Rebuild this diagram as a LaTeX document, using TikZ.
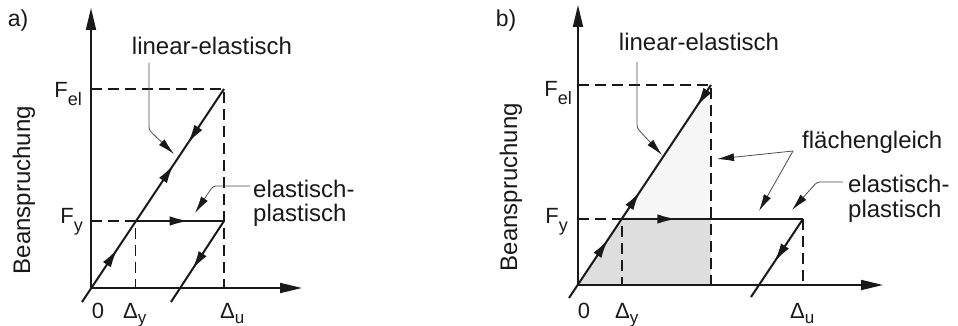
\documentclass[tikz,border=0pt]{standalone}
\usepackage{fontspec}
\setmainfont{Liberation Sans}
\usetikzlibrary{arrows.meta,decorations.markings}
\tikzset{
  axis/.style={line width=1.8pt,draw=black!90,-{Triangle[length=22pt,width=10pt]}},
  curve/.style={line width=2pt,draw=black!90},
  dsh/.style={line width=1.6pt,draw=black!90,dash pattern=on 11pt off 6pt},
  leader/.style={line width=0.8pt,draw=black!70,rounded corners=3pt,-{Latex[length=17pt,width=8pt,black!90]}},
  lbl/.style={font=\fontsize{24}{25}\selectfont,inner sep=0pt,text=black!90},
  tick/.style={font=\fontsize{22}{22}\selectfont,inner sep=0pt,text=black!90},
  arr/.style={postaction={decorate,decoration={markings,mark=at position #1 with {\arrow{Latex[length=19pt,width=9.5pt]}}}}},
  rarr/.style={postaction={decorate,decoration={markings,mark=at position #1 with {\arrowreversed{Latex[length=19pt,width=9.5pt]}}}}},
}
\newcommand{\subsc}[1]{\raisebox{-8pt}{\fontsize{18}{18}\selectfont #1}}
\newcommand{\subtk}[1]{\raisebox{-5pt}{\fontsize{17}{17}\selectfont #1}}
\begin{document}
\begin{tikzpicture}[x=1pt,y=-1pt]
\useasboundingbox (0,0) rectangle (958,326);
% ---------------- panel a ----------------
\coordinate (Oa) at (91,288);
\coordinate (Ta) at (91,8);
\coordinate (Ra) at (302,288);
\coordinate (Sa) at (82,302);
\coordinate (Ea) at (224,89);
\coordinate (Pa) at (135.5,221);
\coordinate (Ua) at (224,221);
\coordinate (Ba) at (171,302);
\draw[dsh] (Oa |- Ea) -- (Ea) -- (Ea |- Oa);
\draw[dsh] (Oa |- Pa) -- (Pa) -- (Pa |- Oa);
\draw[curve,arr=0.25,arr=0.645,rarr=0.745] (Sa) -- (Ea);
\draw[curve,arr=0.6] (Pa) -- (Ua);
\draw[curve,arr=0.6] (Ua) -- (Ba);
\draw[axis] (Oa) -- (Ta);
\draw[axis] (Oa) -- (Ra);
\node[lbl,font=\fontsize{23}{23}\selectfont] (la) at (18,21) {a)};
\node[lbl,rotate=90] (ya) at (24,190) {Beanspruchung};
\node[tick,anchor=base east] (fela) at (82,98) {F\subsc{el}};
\node[tick,anchor=base east] (fya) at (83,223) {F\subsc{y}};
\node[tick,anchor=base] (za) at (98,318) {0};
\node[tick,anchor=base west] (dya) at (123,318) {Δ\subtk{y}};
\node[tick,anchor=base west] (dua) at (220,318) {Δ\subtk{u}};
\node[lbl,anchor=base] (lea) at (212,55) {linear-elastisch};
\node[lbl,anchor=base west] (epa1) at (253,197) {elastisch-};
\node[lbl,anchor=base west] (epa2) at (253,221) {plastisch};
\coordinate (la1) at (149,63);
\coordinate (la2) at (149,130);
\coordinate (la3) at (174,154);
\draw[leader] (la1) -- (la2) -- (la3);
\coordinate (ea1) at (250,186);
\coordinate (ea2) at (213,186);
\coordinate (ea3) at (195,213);
\draw[leader] (ea1) -- (ea2) -- (ea3);
% ---------------- panel b ----------------
\coordinate (Ob) at (578,285);
\coordinate (Tb) at (578,5);
\coordinate (Rb) at (883,285);
\coordinate (Sb) at (569,298);
\coordinate (Eb) at (711,85);
\coordinate (Pb) at (622,219);
\coordinate (Ub) at (803,219);
\coordinate (Bb) at (751,297);
\fill[black!3] (Pb) -- (Eb) -- (Eb |- Pb) -- cycle;
\fill[black!13] (Ob) -- (Pb) -- (Eb |- Pb) -- (Eb |- Ob) -- cycle;
\draw[dsh] (Ob |- Eb) -- (Eb) -- (Eb |- Ob);
\draw[dsh] (Ob |- Pb) -- (Pb) -- (Pb |- Ob);
\draw[dsh] (Ub) -- (Ub |- Ob);
\draw[curve,arr=0.275,arr=0.5,rarr=0.9] (Sb) -- (Eb);
\draw[curve,arr=0.3] (Pb) -- (Ub);
\draw[curve,arr=0.55] (Ub) -- (Bb);
\draw[axis] (Ob) -- (Tb);
\draw[axis] (Ob) -- (Rb);
\node[lbl,font=\fontsize{23}{23}\selectfont] (lb) at (506,21) {b)};
\node[lbl,rotate=90] (yb) at (511,187) {Beanspruchung};
\node[tick,anchor=base east] (felb) at (572,97) {F\subsc{el}};
\node[tick,anchor=base east] (fyb) at (568,223) {F\subsc{y}};
\node[tick,anchor=base] (zb) at (584,318) {0};
\node[tick,anchor=base west] (dyb) at (615,318) {Δ\subtk{y}};
\node[tick,anchor=base west] (dub) at (790,318) {Δ\subtk{u}};
\node[lbl,anchor=base] (leb) at (699,51) {linear-elastisch};
\node[lbl,anchor=base west] (fg) at (802,148) {flächengleich};
\node[lbl,anchor=base west] (epb1) at (848,192) {elastisch-};
\node[lbl,anchor=base west] (epb2) at (848,217) {plastisch};
\coordinate (lb1) at (637,62);
\coordinate (lb2) at (637,128);
\coordinate (lb3) at (662,155);
\draw[leader] (lb1) -- (lb2) -- (lb3);
\coordinate (fg0) at (793,151);
\coordinate (fg1) at (717,159);
\coordinate (fg2) at (759,211);
\draw[leader] (fg0) -- (fg1);
\draw[leader] (fg0) -- (fg2);
\coordinate (eb1) at (843,182);
\coordinate (eb2) at (817,182);
\coordinate (eb3) at (792,210);
\draw[leader] (eb1) -- (eb2) -- (eb3);
\end{tikzpicture}
\end{document}
